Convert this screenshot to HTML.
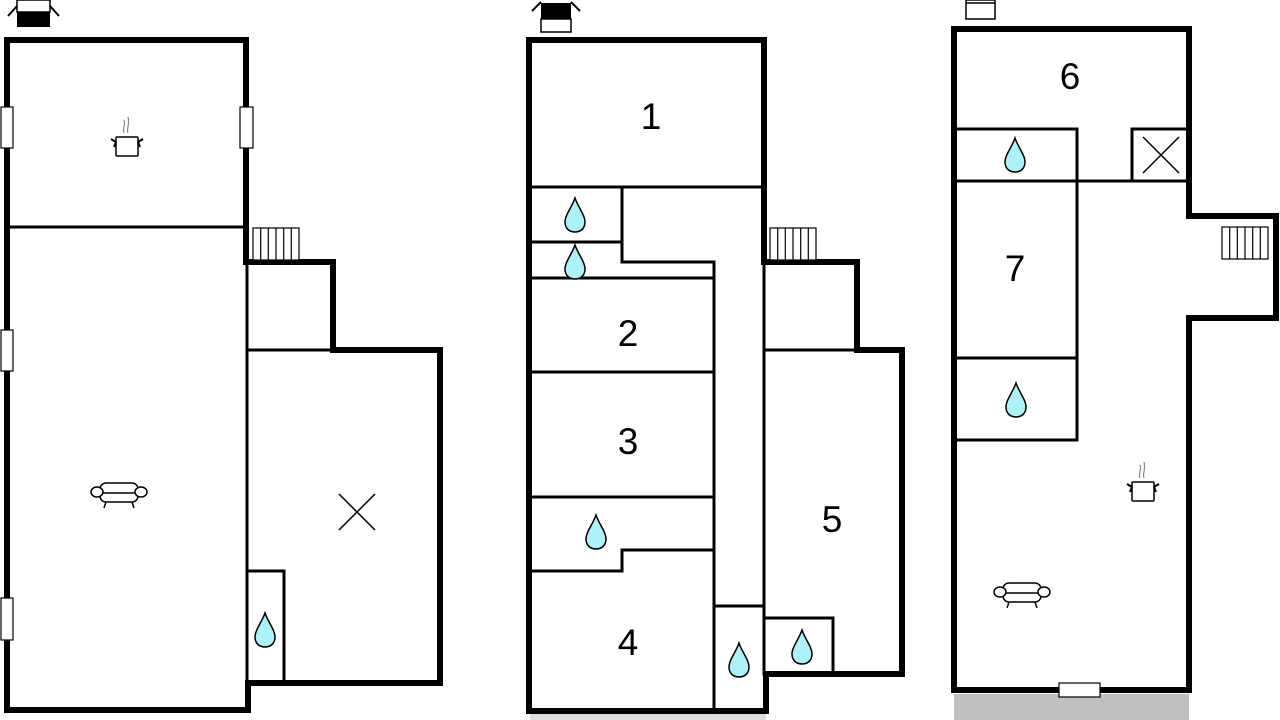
<!DOCTYPE html>
<html><head><meta charset="utf-8"><style>
html,body{margin:0;padding:0;background:#fff;width:1280px;height:720px;overflow:hidden}
text{font-family:"Liberation Sans",sans-serif;font-size:37px;fill:#000}
</style></head><body>
<svg width="1280" height="720" viewBox="0 0 1280 720" xmlns="http://www.w3.org/2000/svg">
<defs>
<g id="drop"><path d="M0,-17 C3,-8 10,0 10,7 C10,14 5,17 0,17 C-5,17 -10,14 -10,7 C-10,0 -3,-8 0,-17Z" fill="#aef1f6" stroke="#000" stroke-width="1.5"/></g>
<g id="pot" fill="none" stroke="#000" stroke-width="1.5"><rect x="-11" y="-8" width="22" height="19" rx="1" fill="#fff"/><path d="M-11,-3 L-16,-6 M-11,-3 L-13,2 M11,-3 L16,-6 M11,-3 L13,2" stroke-width="2"/><path d="M-3,-12 C-5,-16 -1,-20 -3,-25 M1,-12 C-1,-16 3,-20 1,-28" stroke="#888" stroke-width="1.2"/></g>
<g id="sofa" fill="#fff" stroke="#000" stroke-width="1.5"><rect x="-19" y="-11" width="38" height="19" rx="6"/><line x1="-17" y1="-1" x2="17" y2="-1"/><ellipse cx="-22" cy="-2" rx="6" ry="5"/><ellipse cx="22" cy="-2" rx="6" ry="5"/><path d="M-13,8 L-15,14 M13,8 L15,14" fill="none"/></g>
<g id="stairs" fill="#fff" stroke="#000" stroke-width="1.2"><rect x="0" y="0" width="46" height="32"/><path d="M7.7,0V32M15.3,0V32M23,0V32M30.7,0V32M38.3,0V32"/></g>
<g id="x" stroke="#000" stroke-width="1.5"><path d="M-18,-18L18,18M18,-18L-18,18"/></g>
</defs>

<!-- PLAN 1 -->
<g fill="none" stroke="#000" stroke-linecap="square">
<path d="M7,40 H246 V262 H333 V350 H440 V683 H248 V710 H7 Z" stroke-width="6"/>
<path d="M7,227 H246" stroke-width="3"/>
<path d="M247,262 V683 M247,350 H333 M247,571 H284 V683" stroke-width="3"/>
</g>
<g fill="#fff" stroke="#000" stroke-width="1.2">
<rect x="1" y="107" width="12" height="41"/><rect x="1" y="330" width="12" height="41"/><rect x="1" y="598" width="12" height="42"/>
<rect x="240" y="107" width="13" height="41"/>
</g>
<rect x="17" y="12" width="33" height="15" fill="#000"/><rect x="17" y="0" width="33" height="12" fill="#fff" stroke="#000" stroke-width="1.5"/>
<path d="M8,16 L17,6 M59,16 L50,6" stroke="#000" stroke-width="2"/>
<use href="#stairs" x="253" y="228"/>
<use href="#pot" x="127" y="145"/>
<use href="#sofa" x="119" y="494"/>
<use href="#x" x="357" y="512"/>
<use href="#drop" x="265" y="630"/>

<!-- PLAN 2 -->
<g fill="none" stroke="#000" stroke-linecap="square">
<path d="M529,40 H764 V262 H857 V350 H902 V674 H766 V711 H529 Z" stroke-width="6"/>
<path d="M529,187 H764 M622,187 V262 H714 V711 M529,242 H622 M529,278 H714 M529,372 H714 M529,497 H714 M714,550 H622 V571 H529 M714,606 H764 M764,262 V674 M764,350 H857 M764,618 H833 V674" stroke-width="3"/>
</g>
<rect x="530" y="714" width="236" height="6" fill="#ddd"/>
<rect x="541" y="14" width="30" height="18" fill="#000"/><rect x="541" y="19" width="30" height="13" fill="#fff" stroke="#000" stroke-width="1.5"/>
<path d="M532,11 L541,2 M580,11 L571,2" stroke="#000" stroke-width="2"/>
<rect x="541" y="3" width="30" height="11" fill="#000"/>
<use href="#stairs" x="770" y="228"/>
<text x="651" y="129" text-anchor="middle">1</text>
<text x="628" y="346" text-anchor="middle">2</text>
<text x="628" y="454" text-anchor="middle">3</text>
<text x="628" y="655" text-anchor="middle">4</text>
<text x="832" y="532" text-anchor="middle">5</text>
<use href="#drop" x="575" y="215"/>
<use href="#drop" x="575" y="262"/>
<use href="#drop" x="596" y="532"/>
<use href="#drop" x="739" y="660"/>
<use href="#drop" x="802" y="647"/>

<!-- PLAN 3 -->
<rect x="954" y="694" width="235" height="26" fill="#c0c0c0"/>
<g fill="none" stroke="#000" stroke-linecap="square">
<path d="M954,29 H1189 V216 H1276 V318 H1189 V690 H954 Z" stroke-width="6"/>
<path d="M954,129 H1077 V440 H954 M954,181 H1189 M1132,181 V129 H1189 M954,358 H1077" stroke-width="3"/>
</g>
<rect x="1059" y="683" width="41" height="14" fill="#fff" stroke="#000" stroke-width="1.2"/>
<rect x="966" y="0" width="29" height="19" fill="#fff" stroke="#000" stroke-width="1.5"/><line x1="966" y1="3" x2="995" y2="3" stroke="#000" stroke-width="1.5"/>
<use href="#stairs" x="1222" y="227"/>
<use href="#x" x="1161" y="155"/>
<text x="1070" y="89" text-anchor="middle">6</text>
<text x="1015" y="281" text-anchor="middle">7</text>
<use href="#drop" x="1015" y="155"/>
<use href="#drop" x="1016" y="400"/>
<use href="#pot" x="1143" y="490"/>
<use href="#sofa" x="1022" y="594"/>
</svg>
</body></html>
